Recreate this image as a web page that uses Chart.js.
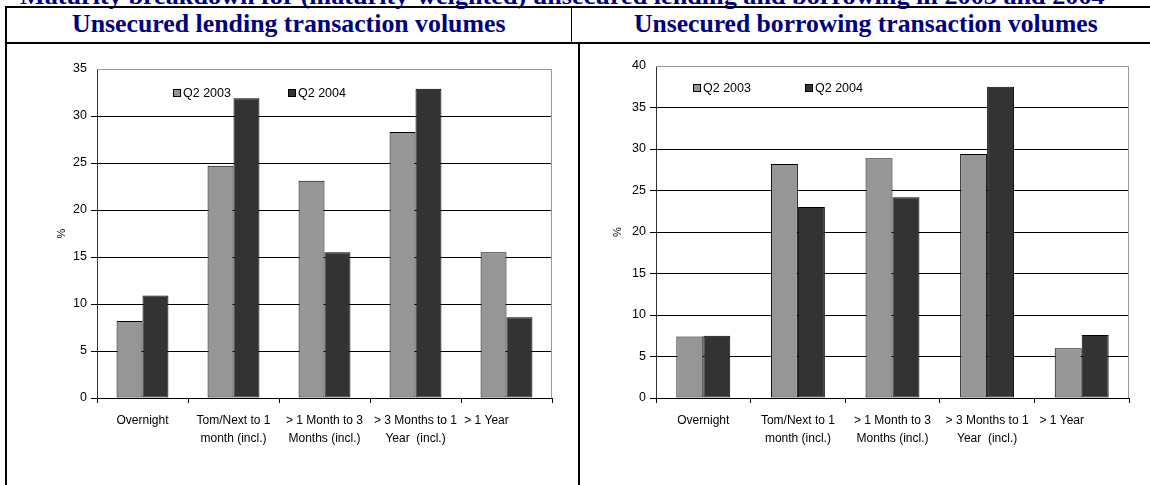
<!DOCTYPE html>
<html>
<head>
<meta charset="utf-8">
<script src="https://cdn.jsdelivr.net/npm/chart.js@4.4.1/dist/chart.umd.min.js"></script>
<style>
  html, body { margin: 0; padding: 0; background: #fff; }
  body { width: 1150px; height: 485px; position: relative; overflow: hidden; }
  .ttl { position: absolute; white-space: nowrap; font-family: "Liberation Serif", "Times New Roman", serif;
         font-weight: bold; color: #000080; line-height: 1; transform-origin: 0 0; }
  .ln { position: absolute; background: #000; }
  canvas { position: absolute; }
</style>
</head>
<body>
<div class="ttl" id="mainTitle" style="font-size:24px; top:-16px; left:20px;">Maturity breakdown for (maturity-weighted) unsecured lending and borrowing in 2003 and 2004</div>
<div class="ttl" id="hLeft" style="font-size:26px; top:11px; left:72px;">Unsecured lending transaction volumes</div>
<div class="ttl" id="hRight" style="font-size:26px; top:11px; left:634px;">Unsecured borrowing transaction volumes</div>

<div class="ln" style="left:5px; top:6px; width:1145px; height:2px;"></div>
<div class="ln" style="left:5px; top:42px; width:1145px; height:2px;"></div>
<div class="ln" style="left:5px; top:6px; width:2px; height:479px;"></div>
<div class="ln" style="left:571px; top:6px; width:1px; height:37px;"></div>
<div class="ln" style="left:578px; top:42px; width:2px; height:443px;"></div>

<canvas id="lendChart" style="left:8px; top:45px;" width="567" height="435"></canvas>
<canvas id="borrowChart" style="left:585px; top:45px;" width="560" height="435"></canvas>

<script>
const categories = [
  ['Overnight'],
  ['Tom/Next to 1', 'month (incl.)'],
  ['> 1 Month to 3', 'Months (incl.)'],
  ['> 3 Months to 1', 'Year  (incl.)'],
  ['> 1 Year            ']
];
const seriesNames = ['Q2 2003', 'Q2 2004'];
const lending2003 = [8.2, 24.7, 23.1, 28.3, 15.5];
const lending2004 = [10.9, 31.9, 15.5, 32.9, 8.6];
const borrowing2003 = [7.4, 28.2, 28.9, 29.4, 6.0];
const borrowing2004 = [7.5, 23.0, 24.2, 37.5, 7.6];
const lendTicksMax = 35;
const borrowTicksMax = 40;

const colors = ['#969696', '#333333'];

Chart.defaults.font.family = '"Liberation Sans", Arial, sans-serif';
Chart.defaults.font.size = 12;
Chart.defaults.color = '#000';
Chart.defaults.animation = false;

// fit the header texts to the widths seen in the original
function fitText(id, w) {
  const el = document.getElementById(id);
  el.style.transform = 'scaleX(' + (w / el.offsetWidth) + ')';
}
fitText('mainTitle', 1085);
fitText('hLeft', 434);
fitText('hRight', 464);

// grey frame on top and right of the plot, legend inside the plot
const frameAndLegend = {
  id: 'frameAndLegend',
  afterDraw(chart, args, opts) {
    const { ctx, chartArea: a } = chart;
    ctx.save();
    ctx.strokeStyle = '#999';
    ctx.lineWidth = 1;
    ctx.beginPath();
    ctx.moveTo(a.left, a.top + 0.5);
    ctx.lineTo(a.right - 0.5, a.top + 0.5);
    ctx.lineTo(a.right - 0.5, a.bottom);
    ctx.stroke();

    ctx.font = '12.5px "Liberation Sans", Arial, sans-serif';
    ctx.textBaseline = 'middle';
    chart.data.datasets.forEach((ds, i) => {
      const x = a.left + opts.xs[i];
      const y = a.top + opts.y;
      ctx.fillStyle = ds.backgroundColor;
      ctx.fillRect(x, y, 8, 8);
      ctx.strokeStyle = '#000';
      ctx.strokeRect(x + 0.5, y + 0.5, 7, 7);
      ctx.fillStyle = '#000';
      ctx.fillText(ds.label, x + 10, y + 4.5);
    });
    ctx.restore();
  }
};

function makeChart(id, d1, d2, max, yWidth, pad, titlePad, legend) {
  return new Chart(document.getElementById(id), {
    type: 'bar',
    data: {
      labels: categories,
      datasets: [
        { label: seriesNames[0], data: d1, backgroundColor: colors[0] },
        { label: seriesNames[1], data: d2, backgroundColor: colors[1] }
      ]
    },
    options: {
      responsive: false,
      layout: { padding: pad },
      datasets: {
        bar: {
          borderColor: '#000', borderWidth: 1, borderSkipped: false,
          categoryPercentage: 0.57, barPercentage: 1.0
        }
      },
      plugins: {
        legend: { display: false },
        tooltip: { enabled: false },
        frameAndLegend: legend
      },
      scales: {
        x: {
          grid: { drawOnChartArea: false, drawTicks: true, tickLength: 5, color: '#000', offset: true },
          border: { color: '#000' },
          ticks: { maxRotation: 0, autoSkip: false, padding: 9, font: { size: 12, lineHeight: 1.5 } },
          afterFit: s => { s.height = 82; }
        },
        y: {
          min: 0, max: max,
          ticks: { stepSize: 5, padding: 4, font: { size: 12.5 } },
          grid: {
            tickLength: 6,
            color: c => (c.tick && c.tick.value === max) ? 'rgba(0,0,0,0)' : '#000'
          },
          border: { color: '#333' },
          title: { display: true, text: '%', font: { size: 11 }, padding: { top: titlePad, bottom: 0 } },
          afterFit: s => { s.width = yWidth; }
        }
      }
    },
    plugins: [frameAndLegend]
  });
}

makeChart('lendChart', lending2003, lending2004, lendTicksMax, 89,
  { top: 24, right: 23, left: 0, bottom: 0 }, 47, { xs: [76, 191], y: 20 });
makeChart('borrowChart', borrowing2003, borrowing2004, borrowTicksMax, 71,
  { top: 21, right: 16, left: 0, bottom: 0 }, 26, { xs: [37, 149], y: 18 });
</script>
</body>
</html>
